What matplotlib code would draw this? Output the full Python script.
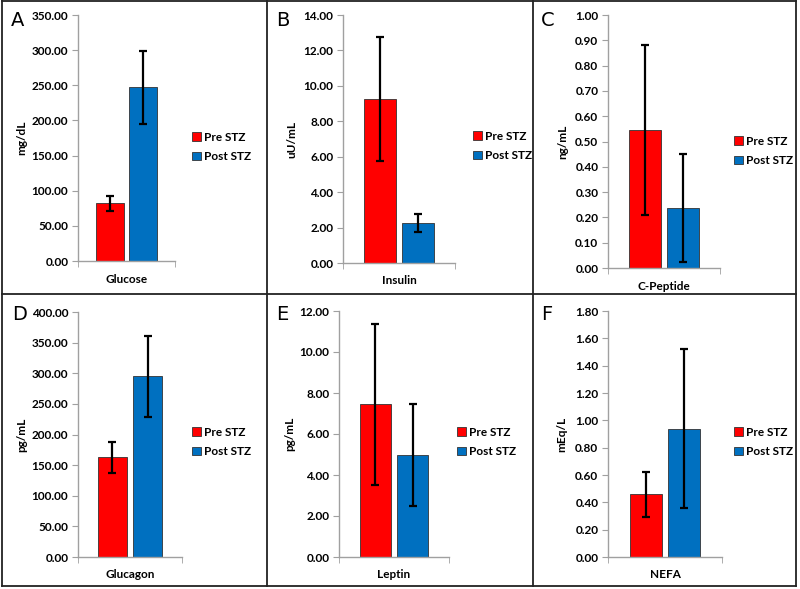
import matplotlib.pyplot as plt
from matplotlib.lines import Line2D
from matplotlib.patches import Patch
import numpy as np

plt.rcParams["font.family"] = ["Lato", "DejaVu Sans"]

# ---- data ----
panels = ["A", "B", "C", "D", "E", "F"]
analytes = ["Glucose", "Insulin", "C-Peptide", "Glucagon", "Leptin", "NEFA"]
units = ["mg/dL", "uU/mL", "ng/mL", "pg/mL", "pg/mL", "mEq/L"]
pre_mean = [82.0, 9.25, 0.545, 163.0, 7.45, 0.46]
pre_err = [10.5, 3.5, 0.335, 25.5, 3.93, 0.165]
post_mean = [247.0, 2.25, 0.238, 295.0, 4.98, 0.94]
post_err = [52.0, 0.52, 0.213, 66.5, 2.48, 0.585]
y_max = [350, 14, 1.0, 400, 12, 1.8]
y_step = [50, 2, 0.1, 50, 2, 0.2]
series = ["Pre STZ", "Post STZ"]

RED = "#FF0000"
BLUE = "#0070C0"
W, H = 800, 589

# axes boxes in pixels: left, top, right, bottom
boxes = [(78, 15, 175, 261), (343, 15, 455, 263), (608, 15, 720, 268),
         (78, 312, 182, 557), (339, 311, 449, 557), (608, 311, 722, 557)]
ylab_dx = [51, 46, 40, 51, 44, 41]
legend_x = [192, 473, 734, 192, 457, 734]
legend_y = [147, 146, 151, 442, 442, 442]
letter_xy = [(11, 20), (276, 20), (541, 20), (12, 314), (276, 314), (541, 314)]


def rect(l, t, r, b):
    return [l / W, 1 - b / H, (r - l) / W, (b - t) / H]


fig = plt.figure(figsize=(8, 5.89), dpi=100)

for i in range(6):
    l, t, r, b = boxes[i]
    ax = fig.add_axes(rect(l, t, r, b))
    ax.bar(0.33, pre_mean[i], width=0.28, color=RED, edgecolor="#333333", linewidth=0.6)
    ax.bar(0.67, post_mean[i], width=0.28, color=BLUE, edgecolor="#333333", linewidth=0.6)
    ax.errorbar([0.33, 0.67], [pre_mean[i], post_mean[i]], yerr=[pre_err[i], post_err[i]],
                fmt="none", ecolor="black", elinewidth=1.6, capsize=3, capthick=1.6)
    ax.set_xlim(0, 1)
    ax.set_ylim(0, y_max[i])
    ax.set_yticks(np.arange(0, y_max[i] + y_step[i] / 2, y_step[i]))
    ax.yaxis.set_major_formatter(plt.FormatStrFormatter("%.2f"))
    for s in ["top", "right"]:
        ax.spines[s].set_visible(False)
    for s in ["left", "bottom"]:
        ax.spines[s].set_color("#A0A0A0")
        ax.spines[s].set_linewidth(1.0)
    ax.tick_params(axis="y", direction="out", length=4, color="#A0A0A0", labelsize=8.5, pad=3)
    for lab in ax.get_yticklabels():
        lab.set_fontweight("bold")
    ax.set_xticks([0.5])
    ax.set_xticklabels([analytes[i]], fontsize=8.5, fontweight="bold")
    ax.tick_params(axis="x", length=0, pad=9)
    ax.set_xticks([0, 1], minor=True)
    ax.tick_params(axis="x", which="minor", direction="out", length=4, color="#A0A0A0")
    ax.set_ylabel(units[i], fontsize=8.5, fontweight="bold")
    ax.yaxis.set_label_coords(-ylab_dx[i] / (r - l), 0.5)

    handles = [Patch(facecolor=RED, edgecolor="#333333", linewidth=0.6),
               Patch(facecolor=BLUE, edgecolor="#333333", linewidth=0.6)]
    ax.legend(handles, series, loc="center left",
              bbox_to_anchor=(legend_x[i] / W, 1 - legend_y[i] / H),
              bbox_transform=fig.transFigure, frameon=False,
              handlelength=0.75, handleheight=0.75, handletextpad=0.3,
              labelspacing=0.7, borderaxespad=0, borderpad=0,
              prop={"size": 8.5, "weight": "bold"})

    lx, ly = letter_xy[i]
    fig.text(lx / W, 1 - ly / H, panels[i], fontsize=14, ha="left", va="center",
             family=["DejaVu Sans"])

# panel frame
lines = [((2, 1), (796, 1)), ((2, 586), (796, 586)), ((2, 1), (2, 586)),
         ((796, 1), (796, 586)), ((267, 1), (267, 586)), ((533, 1), (533, 586)),
         ((2, 294), (796, 294))]
for (x0, y0), (x1, y1) in lines:
    fig.add_artist(Line2D([x0 / W, x1 / W], [1 - y0 / H, 1 - y1 / H],
                          color="#222222", linewidth=1.3, transform=fig.transFigure))

fig.savefig("out.png", dpi=100)
